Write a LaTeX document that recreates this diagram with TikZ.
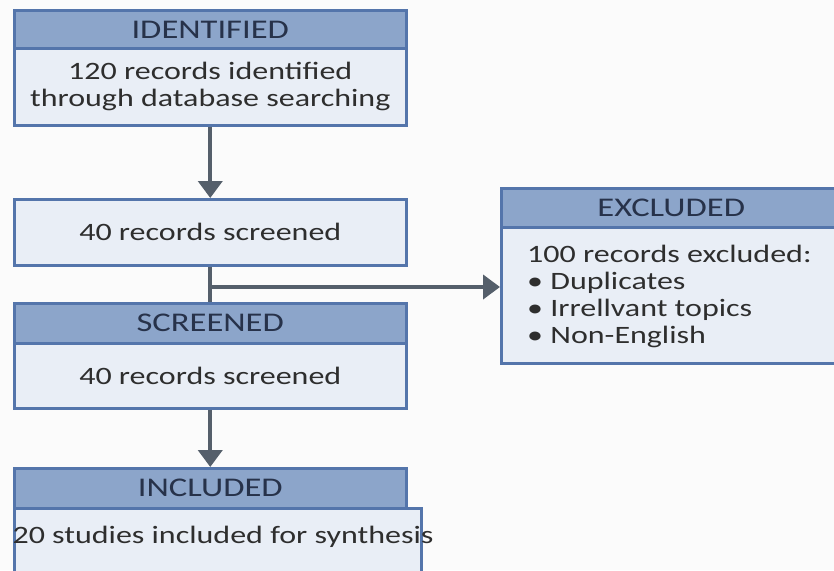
\documentclass[tikz,border=0pt]{standalone}
\usepackage{fontspec}
\setmainfont[FakeStretch=1.28]{Carlito}
\usepackage{tikz}
\usetikzlibrary{positioning,arrows.meta}

\definecolor{hdrblue}{HTML}{8CA5CA}
\definecolor{bodyblue}{HTML}{E9EEF6}
\definecolor{edgeblue}{HTML}{5475AB}
\definecolor{inkdark}{HTML}{27324A}
\definecolor{inkgray}{HTML}{2E2E2E}
\definecolor{arrowgray}{HTML}{555F6B}

\tikzset{
  hdr/.style={draw=edgeblue,line width=2.5pt,fill=hdrblue,anchor=north west,
    minimum width=392pt,minimum height=39pt,inner sep=0pt,text=inkdark,
    font=\fontsize{27}{29}\selectfont},
  bodybox/.style={draw=edgeblue,line width=2.5pt,fill=bodyblue,anchor=north west,
    minimum width=392pt,inner sep=0pt,text=inkgray,align=center,
    font=\fontsize{25}{27}\selectfont},
  flow/.style={arrowgray,line width=4pt,-{Triangle[width=24pt,length=17pt]}},
}

\begin{document}
\begin{tikzpicture}[x=1pt,y=-1pt]
    \useasboundingbox (0,0) rectangle (834,570);
    \fill[white!97!gray] (0,0) rectangle (834,570);

    % Identified
    \node[hdr] (idhdr) at (13,9) {IDENTIFIED};
    \node[bodybox,minimum height=77pt] (idbody) at (13,47)
        {120 records identified\\through database searching};

    % Screened (first box)
    \node[bodybox,minimum height=66pt] (scrone) at (13,198) {40 records screened};

    % Screened
    \node[hdr,minimum height=40pt] (scrhdr) at (13,302) {SCREENED};
    \node[bodybox,minimum height=65pt] (scrbody) at (13,342) {40 records screened};

    % Included
    \node[hdr,minimum height=40pt] (inchdr) at (13,467) {INCLUDED};
    \node[bodybox,minimum width=407pt,minimum height=70pt] (incbody) at (13,507) {};
    \node[text=inkgray,font=\fontsize{25}{27}\selectfont] (inctext) at (223,537)
        {20 studies included for synthesis};

    % Excluded
    \node[hdr,minimum width=340pt] (exhdr) at (500,187) {EXCLUDED};
    \node[bodybox,minimum width=340pt,minimum height=136pt] (exbody) at (500,226) {};
    \node[anchor=north west,align=left,inner sep=0pt,text=inkgray,
          font=\fontsize{25}{27}\selectfont] (extext) at (527,245)
        {100 records excluded:\\
         • Duplicates\\
         • Irrellvant topics\\
         • Non-English};

    % Connectors
    \draw[flow] (idbody.south) -- (scrone.north);
    \draw[arrowgray,line width=4pt] (scrone.south) -- (scrhdr.north);
    \coordinate (split) at (208,287);
    \draw[flow] (split) -- (split -| exbody.west);
    \draw[flow] (scrbody.south) -- (inchdr.north);
\end{tikzpicture}
\end{document}
